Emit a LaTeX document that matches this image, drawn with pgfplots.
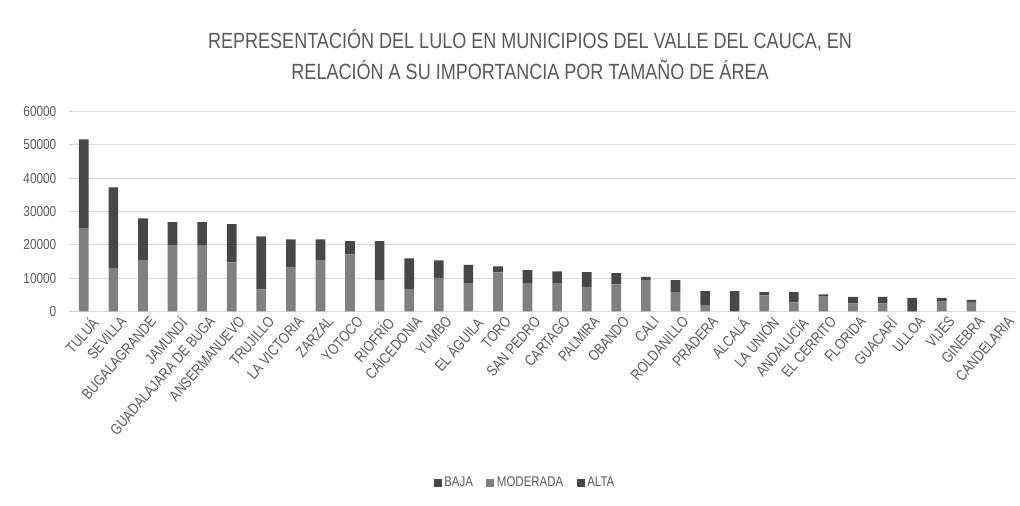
\documentclass[border=0pt]{standalone}
\usepackage{fontspec}
\setmainfont{Liberation Sans}[FakeStretch=0.82]
\usepackage{pgfplots}
\usepackage{pgfplotstable}
\pgfplotsset{compat=1.18}

\definecolor{oscuro}{HTML}{474747}
\definecolor{medio}{HTML}{808080}
\definecolor{texto}{HTML}{595959}
\definecolor{rejilla}{HTML}{D9D9D9}

% superficie por municipio
\pgfplotstableread{
x baja moderada alta
0  0     25100 26500
1  0     13100 24100
2  0     15400 12500
3  0     19900 6900
4  0     19900 6900
5  0     14700 11500
6  0     6650  15850
7  0     13400 8200
8  0     15400 6200
9  0     17100 4000
10 0     9400  11700
11 0     6700  9200
12 0     10100 5200
13 0     8500  5500
14 0     11700 1800
15 0     8500  3900
16 0     8500  3500
17 0     7400  4400
18 0     8100  3400
19 0     9400  1000
20 0     5800  3600
21 0     1900  4200
22 6100  0     0
23 0     4850  950
24 0     2750  3050
25 0     4450  700
26 0     2450  1900
27 0     2450  1900
28 4050  0     0
29 0     2950  1100
30 0     2850  600
31 0     0     0
}\lulo

\begin{document}
\begin{tikzpicture}[x=1pt,y=1pt]
\useasboundingbox (-51.75,-145.9) rectangle (713.25,233.6);
\begin{axis}[
    at={(0,0)}, anchor=south west,
    scale only axis,
    width=710pt, height=150pt,
    ybar stacked,
    bar width=7.2pt,
    xmin=-0.5, xmax=31.5,
    ymin=0, ymax=60000,
    ytick={0,10000,...,60000},
    scaled y ticks=false,
    xtick={0,...,31},
    xticklabels={TULUÁ,SEVILLA,BUGALAGRANDE,JAMUNDÍ,GUADALAJARA DE BUGA,ANSERMANUEVO,TRUJILLO,LA VICTORIA,ZARZAL,YOTOCO,RIOFRÍO,CAICEDONIA,YUMBO,EL ÁGUILA,TORO,SAN PEDRO,CARTAGO,PALMIRA,OBANDO,CALI,ROLDANILLO,PRADERA,ALCALÁ,LA UNIÓN,ANDALUCÍA,EL CERRITO,FLORIDA,GUACARÍ,ULLOA,VIJES,GINEBRA,CANDELARIA},
    x tick label style={rotate=49, anchor=north east, font=\fontsize{11.4}{12}\selectfont, text=texto, inner sep=1pt, xshift=2pt, yshift=-4pt},
    y tick label style={font=\fontsize{10.8}{11}\selectfont, text=texto, xshift=-6pt},
    /pgf/number format/1000 sep={},
    /pgf/number format/assume math mode=true,
    major tick length=0pt,
    ymajorgrids,
    grid style={rejilla, line width=0.9pt},
    axis x line*=bottom,
    axis y line*=left,
    x axis line style={rejilla, line width=0.9pt, -},
    y axis line style={draw=none},
    title={REPRESENTACIÓN DEL LULO EN MUNICIPIOS DEL VALLE DEL CAUCA, EN\\RELACIÓN A SU IMPORTANCIA POR TAMAÑO DE ÁREA},
    title style={at={(0.487,1)}, anchor=south, yshift=14pt, align=center, text=texto, font=\fontsize{16.5}{23.5}\selectfont},
    legend style={at={(0.482,-0.857)}, anchor=center, draw=none, legend columns=3,
        font=\fontsize{10.5}{11}\selectfont, text=texto,
        /tikz/every even column/.append style={column sep=8pt}},
    legend image code/.code={\fill[#1] (0pt,-3pt) rectangle (6pt,3pt);},
]
\addplot[fill=oscuro, draw=none] table[x=x, y=baja] {\lulo};
\addplot[fill=medio, draw=none] table[x=x, y=moderada] {\lulo};
\addplot[fill=oscuro, draw=none] table[x=x, y=alta] {\lulo};
\legend{BAJA, MODERADA, ALTA}
\end{axis}
\end{tikzpicture}
\end{document}
